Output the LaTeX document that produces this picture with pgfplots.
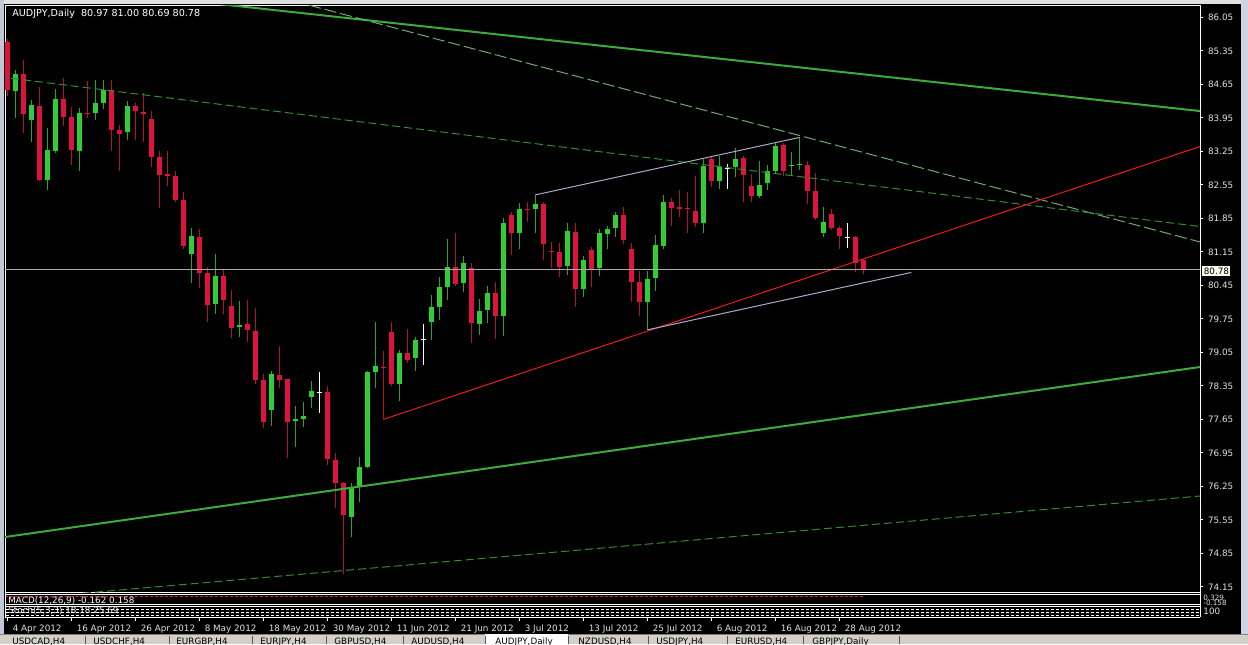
\documentclass[border=0pt]{standalone}
\usepackage{pgfplots}
\pgfplotsset{compat=1.18}
\usepackage{pgfplotstable}
\usepackage{fontspec}
\setmainfont{DejaVu Sans}
\newcommand\mt{\fontsize{4.4}{5}\selectfont}

\definecolor{bear}{RGB}{220,20,60}
\definecolor{bearw}{RGB}{175,20,45}
\definecolor{bull}{RGB}{50,205,50}
\definecolor{bullw}{RGB}{45,160,45}
\definecolor{trendg}{RGB}{60,170,60}
\definecolor{dashA}{RGB}{110,170,110}
\definecolor{dashB}{RGB}{50,140,50}
\definecolor{trendr}{RGB}{230,30,30}
\definecolor{chan}{RGB}{170,170,200}
\definecolor{hline}{RGB}{170,170,170}
\definecolor{lbl}{RGB}{225,225,225}
\definecolor{winfr}{RGB}{212,208,200}
\definecolor{scrl}{RGB}{205,212,228}
\definecolor{boxc}{RGB}{250,250,232}

% daily AUDJPY candles, k = bar index from 4 Apr 2012
\pgfplotstableread{
k o h l c
0 85.54 85.59 84.40 84.53
2 84.87 85.16 83.63 84.03
4 84.19 84.60 82.64 82.66
7 84.34 84.78 83.78 83.96
8 83.96 84.17 82.97 83.27
10 84.06 84.71 83.94 84.04
13 84.53 84.73 83.26 83.69
14 83.69 83.79 82.83 83.62
16 84.19 84.27 83.49 84.09
17 84.07 84.46 83.45 84.04
18 83.92 84.10 82.93 83.14
19 83.14 83.26 82.07 82.76
20 82.77 83.26 82.52 82.73
21 82.73 82.84 82.19 82.23
22 82.23 82.41 81.22 81.27
24 81.46 81.63 80.40 80.70
25 80.70 80.83 79.69 80.05
27 80.65 80.79 79.86 80.14
28 80.02 80.36 79.35 79.55
30 79.64 80.14 79.26 79.52
31 79.50 79.98 78.38 78.47
32 78.47 78.60 77.48 77.59
34 78.58 79.18 78.31 78.47
35 78.49 78.50 76.84 77.60
40 78.23 78.34 76.70 76.82
41 76.80 76.94 75.79 76.33
42 76.32 76.35 74.43 75.65
47 78.75 79.07 77.65 78.72
48 79.48 79.69 78.35 78.38
50 79.03 79.53 78.82 78.90
56 80.83 81.55 80.44 80.48
58 80.81 80.92 79.25 79.66
61 80.30 80.53 79.34 79.80
63 81.92 81.99 81.08 81.54
65 82.04 82.20 81.78 82.03
67 82.15 82.20 80.99 81.31
68 81.17 81.36 80.81 81.14
69 81.15 81.34 80.63 80.84
71 81.57 81.75 80.00 80.37
73 81.19 81.26 80.41 80.77
77 81.92 82.08 81.31 81.40
78 81.22 81.34 80.11 80.53
79 80.53 80.74 79.80 80.11
83 82.20 82.27 81.68 82.06
84 82.08 82.44 81.88 82.05
85 82.06 82.41 81.54 82.04
86 82.01 82.73 81.66 81.75
88 83.08 83.15 82.51 82.64
92 83.12 83.15 82.20 82.76
93 82.53 82.78 82.20 82.32
97 83.38 83.43 82.73 82.83
100 82.96 83.05 82.15 82.43
101 82.43 82.80 81.82 81.85
103 81.95 82.04 81.61 81.64
104 81.64 81.69 81.22 81.48
106 81.47 81.48 80.72 80.91
107 80.97 81.00 80.69 80.78
}\bears

\pgfplotstableread{
k o h l c
1 84.51 84.94 83.94 84.86
3 83.91 84.32 83.45 84.21
5 82.66 83.74 82.45 83.27
6 83.26 84.55 83.22 84.34
9 83.26 84.16 82.84 84.06
11 84.05 84.73 83.91 84.27
12 84.27 84.73 84.14 84.53
15 83.65 84.30 83.49 84.19
23 81.10 81.65 80.50 81.49
26 80.07 81.11 79.86 80.65
29 79.58 80.12 79.37 79.63
33 77.84 78.67 77.52 78.60
36 77.61 77.92 77.07 77.65
37 77.65 78.02 77.50 77.72
38 78.11 78.45 77.88 78.24
43 75.62 76.32 75.20 76.21
44 76.25 76.87 75.93 76.66
45 76.66 78.67 76.64 78.65
46 78.63 79.69 78.30 78.77
49 78.38 79.09 78.04 79.04
51 78.93 79.38 78.67 79.30
53 79.69 80.25 79.30 79.99
54 79.99 80.62 79.73 80.41
55 80.42 81.41 80.14 80.83
57 80.49 81.06 80.32 80.92
59 79.64 80.16 79.41 79.92
60 79.94 80.44 79.66 80.30
62 79.80 81.85 79.39 81.76
64 81.54 82.18 81.20 82.04
66 82.04 82.34 81.55 82.15
70 80.85 81.75 80.67 81.59
72 80.37 81.06 80.21 80.97
74 80.81 81.62 80.65 81.54
75 81.52 81.68 81.20 81.62
76 81.64 81.99 81.47 81.92
80 80.11 80.74 79.52 80.58
81 80.60 81.50 80.34 81.29
82 81.27 82.34 81.20 82.20
87 81.75 83.08 81.55 82.94
89 82.64 83.15 82.46 82.92
91 82.92 83.33 82.71 83.10
94 82.32 83.05 82.27 82.55
95 82.58 82.96 82.44 82.83
96 82.83 83.43 82.80 83.36
98 82.94 83.24 82.76 82.97
99 82.96 83.54 82.85 82.98
102 81.55 82.09 81.45 81.78
}\bulls

\pgfplotstableread{
k o h l c
39 78.22 78.65 77.78 78.22
52 79.32 79.64 78.79 79.32
90 82.89 82.99 82.46 82.89
105 81.45 81.75 81.24 81.45
}\dojis

\pgfplotsset{
  nomark/.style={only marks, mark=*, mark size=0pt, mark options={draw=none, fill=none}, forget plot},
  candle/.style 2 args={nomark,
    error bars/.cd, y dir=plus, y explicit, error mark=none,
    error bar style={line width=#2, line cap=butt, #1}},
  xrange/.style={xmin=-0.2875, xmax=149.0875},
}

\begin{document}
\begin{tikzpicture}
\useasboundingbox (0,0) rectangle (624pt,-322pt);
\begin{scope}[x=0.5pt,y=-0.5pt]
  \fill[black] (0,0) rectangle (1248,644);
  \fill[black!12] (0,0) rectangle (1248,4);
  \fill[scrl!85!gray] (0,0) rectangle (4,644);
  \fill[scrl] (1241,0) rectangle (1248,644);
\end{scope}

% main price chart
\begin{axis}[
  at={(2.5pt,-2.5pt)}, anchor=north west,
  scale only axis, width=597.5pt, height=293.5pt,
  xrange, ymin=74.044, ymax=86.307,
  axis line style={white, line width=0.5pt},
  xtick=\empty,
  ytick={74.15,74.85,75.55,76.25,76.95,77.65,78.35,79.05,79.75,80.45,81.15,81.85,82.55,83.25,83.95,84.65,85.35,86.05},
  ytick pos=right, yticklabel pos=right,
  tick align=outside, major tick length=1.5pt,
  tick style={white, line width=0.5pt},
  yticklabel style={font=\mt, text=lbl, anchor=west, xshift=-1pt,
    /pgf/number format/fixed, /pgf/number format/fixed zerofill,
    /pgf/number format/precision=2, /pgf/number format/assume math mode=true},
]
% wicks
\addplot[candle={bearw}{0.5pt}] table[x=k, y=l, y error expr=\thisrow{h}-\thisrow{l}] {\bears};
\addplot[candle={bullw}{0.5pt}] table[x=k, y=l, y error expr=\thisrow{h}-\thisrow{l}] {\bulls};
\addplot[candle={white}{0.5pt}] table[x=k, y=l, y error expr=\thisrow{h}-\thisrow{l}] {\dojis};
% bodies
\addplot[candle={bear}{2.7pt}] table[x=k, y=c, y error expr=\thisrow{o}-\thisrow{c}] {\bears};
\addplot[candle={bull}{2.7pt}] table[x=k, y=o, y error expr=\thisrow{c}-\thisrow{o}] {\bulls};
\addplot[nomark, error bars/.cd, x dir=both, x fixed=0.32,
  error mark=none, error bar style={white, line width=0.5pt}] table[x=k, y=o] {\dojis};

% trend lines and channels
\addplot[trendg, line width=1pt] coordinates {(20,86.445) (150,84.075)};
\addplot[dashA, line width=0.5pt, dash pattern=on 6pt off 2pt] coordinates {(30,86.647) (150,81.316)};
\addplot[dashB, line width=0.5pt, dash pattern=on 4pt off 2pt] coordinates {(-1,84.807) (150,81.66)};
\addplot[trendg, line width=1pt] coordinates {(-1,75.176) (150,78.766)};
\addplot[dashB, line width=0.5pt, dash pattern=on 4pt off 2pt] coordinates {(-1,73.866) (150,76.063)};
\addplot[trendr, line width=0.5pt] coordinates {(47,77.65) (150,83.402)};
\addplot[chan, line width=0.5pt] coordinates {(66,82.34) (99,83.54)};
\addplot[chan, line width=0.5pt] coordinates {(80,79.52) (113,80.72)};
\addplot[hline, line width=0.5pt] coordinates {(-1,80.78) (150,80.78)};
\end{axis}

% MACD sub window
\begin{axis}[
  at={(2.5pt,-297pt)}, anchor=north west,
  scale only axis, width=597.5pt, height=5pt,
  xrange, ymin=-1, ymax=1, axis lines=none,
]
\addplot[trendr, line width=0.5pt, dash pattern=on 1.5pt off 1pt] coordinates {(-0.3,0.5) (107,0.5)};
\end{axis}

% date strip
\begin{axis}[
  at={(2.5pt,-308.5pt)}, anchor=north west,
  scale only axis, width=597.5pt, height=8pt,
  xrange, ymin=0, ymax=1,
  axis line style={draw=none}, ytick=\empty,
  xtick={0,8,...,104},
  xticklabels={4 Apr 2012,16 Apr 2012,26 Apr 2012,8 May 2012,18 May 2012,30 May 2012,11 Jun 2012,21 Jun 2012,3 Jul 2012,13 Jul 2012,25 Jul 2012,6 Aug 2012,16 Aug 2012,28 Aug 2012},
  xtick pos=right, xticklabel pos=right,
  tick align=inside, major tick length=2pt,
  tick style={white, line width=0.5pt},
  xticklabel style={font=\mt, text=lbl, anchor=north west, xshift=-0.8pt, yshift=-0.5pt},
]
\end{axis}

\begin{scope}[x=0.5pt,y=-0.5pt]
  % sub window frames
  \draw[white, line width=0.5pt] (5,594.5) -- (1200,594.5);
  \draw[white, line width=0.5pt] (5,604.5) -- (1200,604.5);
  \draw[white, line width=0.5pt] (5,606.5) -- (1200,606.5);
  \draw[white, line width=0.5pt] (5,617) -- (1200,617);
  \draw[white, line width=0.5pt] (5.25,592) -- (5.25,617);
  \draw[white, line width=0.5pt] (1200,592) -- (1200,617);
  \foreach \yy in {609,612,615}
    \draw[white, line width=0.4pt, dash pattern=on 1.5pt off 1pt] (6,\yy) -- (1199,\yy);
  \node[font=\mt, text=white, anchor=west, inner sep=0pt] at (8,600.5) {MACD(12,26,9) -0.162 0.158};
  \node[font=\mt, text=white, anchor=west, inner sep=0pt] at (8,611) {Stoch(5,3,3) 18.18 25.69};
  \node[font=\fontsize{3.6}{4}\selectfont, text=lbl, anchor=west, inner sep=0pt] at (1203,597.5) {0.329};
  \node[font=\fontsize{3.6}{4}\selectfont, text=lbl, anchor=west, inner sep=0pt] at (1203,602.5) {-0.158};
  \node[font=\mt, text=lbl, anchor=west, inner sep=0pt] at (1203,611) {100};
  % header and current price box
  \node[font=\fontsize{4.8}{5}\selectfont, text=white, anchor=west, inner sep=0pt] at (12,13.5) {AUDJPY,Daily\ \ 80.97 81.00 80.69 80.78};
  \node[font=\mt, fill=boxc, text=black, anchor=west, inner sep=0.7pt] at (1202,271) {80.78};
  % tab bar
  \fill[winfr] (0,634) rectangle (1248,644);
  \draw[gray, line width=0.5pt] (0,634.5) -- (1248,634.5);
  \fill[white] (485,634) rectangle (568,644);
  \foreach \sx in {85,169,252,326,403,485,568,648,727,803,899}
    \draw[gray!70!black, line width=0.5pt] (\sx,636) -- (\sx,644);
  \foreach \tx/\tn in {12/{USDCAD,H4},93/{USDCHF,H4},176/{EURGBP,H4},260/{EURJPY,H4},334/{GBPUSD,H4},411/{AUDUSD,H4},495/{AUDJPY,Daily},578/{NZDUSD,H4},656/{USDJPY,H4},735/{EURUSD,H4},812/{GBPJPY,Daily}}
    \node[font=\mt, text=black, anchor=north west, inner sep=0pt] at (\tx,637.5) {\tn};
\end{scope}
\end{tikzpicture}
\end{document}
